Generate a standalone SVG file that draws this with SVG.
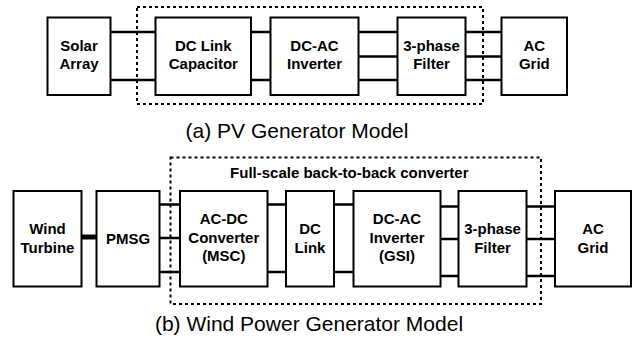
<svg xmlns="http://www.w3.org/2000/svg" width="633" height="340" viewBox="0 0 633 340">
<style>
.box{fill:#fff;stroke:#000;stroke-width:2}
.lbl{font-family:"Liberation Sans",Arial,sans-serif;font-weight:bold;font-size:15px;fill:#000;text-anchor:middle}
.cap{font-family:"Liberation Sans",Arial,sans-serif;font-size:21px;fill:#000;text-anchor:middle}
.wire{stroke:#000;stroke-width:2.5;fill:none}
.thick{stroke:#000;stroke-width:5;fill:none}
.dash{fill:none;stroke:#000;stroke-width:2;stroke-dasharray:3 3}
</style>
<rect width="633" height="340" fill="#fff"/>
<g id="connectors">
<path class="wire" d="M110.5 32H155.5M110.5 80H155.5M251 32H270.5M251 80H270.5M358.5 32H397.5M358.5 56.5H397.5M358.5 80H397.5M465.5 32H501.5M465.5 56.5H501.5M465.5 80H501.5"/>
<path class="thick" d="M81.5 237H96.5"/>
<path class="wire" d="M159.5 204.5H180M159.5 238H180M159.5 272H180M267.5 204.5H286M267.5 272H286M334 204.5H353.5M334 272H353.5M440.5 206.5H458.5M440.5 239H458.5M440.5 276H458.5M526.5 206.5H555M526.5 239H555M526.5 276H555"/>
</g>
<g id="pv-boundary"><rect class="dash" x="137" y="7" width="346" height="97"/></g>
<g id="solar"><rect class="box" x="47.5" y="17.5" width="63" height="77.5"/><text class="lbl" x="79" y="51">Solar</text><text class="lbl" x="79" y="69">Array</text></g>
<g id="dclink-cap"><rect class="box" x="155.5" y="17.5" width="95.5" height="77.5"/><text class="lbl" x="203.3" y="51">DC Link</text><text class="lbl" x="203.3" y="69">Capacitor</text></g>
<g id="pv-inverter"><rect class="box" x="270.5" y="17.5" width="88" height="77.5"/><text class="lbl" x="314.5" y="51">DC-AC</text><text class="lbl" x="314.5" y="69">Inverter</text></g>
<g id="pv-filter"><rect class="box" x="397.5" y="17.5" width="68" height="77.5"/><text class="lbl" x="431.5" y="51">3-phase</text><text class="lbl" x="431.5" y="69">Filter</text></g>
<g id="pv-grid"><rect class="box" x="501.5" y="17.5" width="65.5" height="77.5"/><text class="lbl" x="534.3" y="51">AC</text><text class="lbl" x="534.3" y="69">Grid</text></g>
<text class="cap" x="297" y="138">(a) PV Generator Model</text>
<g id="wind-boundary"><rect class="dash" x="170.5" y="157.5" width="370.5" height="146.5"/><text class="lbl" x="349.3" y="178">Full-scale back-to-back converter</text></g>
<g id="turbine"><rect class="box" x="13.5" y="191" width="68" height="95.5"/><text class="lbl" x="47.5" y="234">Wind</text><text class="lbl" x="47.5" y="252.5">Turbine</text></g>
<g id="pmsg"><rect class="box" x="96.5" y="191" width="63" height="95.5"/><text class="lbl" x="128" y="243.5">PMSG</text></g>
<g id="msc"><rect class="box" x="180" y="191" width="87.5" height="95.5"/><text class="lbl" x="223.8" y="224">AC-DC</text><text class="lbl" x="223.8" y="242.5">Converter</text><text class="lbl" x="223.8" y="261">(MSC)</text></g>
<g id="dclink"><rect class="box" x="286" y="191" width="48" height="95.5"/><text class="lbl" x="310" y="234">DC</text><text class="lbl" x="310" y="252.5">Link</text></g>
<g id="gsi"><rect class="box" x="353.5" y="191" width="87" height="95.5"/><text class="lbl" x="397" y="224">DC-AC</text><text class="lbl" x="397" y="242.5">Inverter</text><text class="lbl" x="397" y="261">(GSI)</text></g>
<g id="wind-filter"><rect class="box" x="458.5" y="191" width="68" height="95.5"/><text class="lbl" x="492.5" y="234">3-phase</text><text class="lbl" x="492.5" y="252.5">Filter</text></g>
<g id="wind-grid"><rect class="box" x="555" y="191" width="76" height="95.5"/><text class="lbl" x="593" y="234">AC</text><text class="lbl" x="593" y="252.5">Grid</text></g>
<text class="cap" x="309" y="331">(b) Wind Power Generator Model</text>
</svg>
